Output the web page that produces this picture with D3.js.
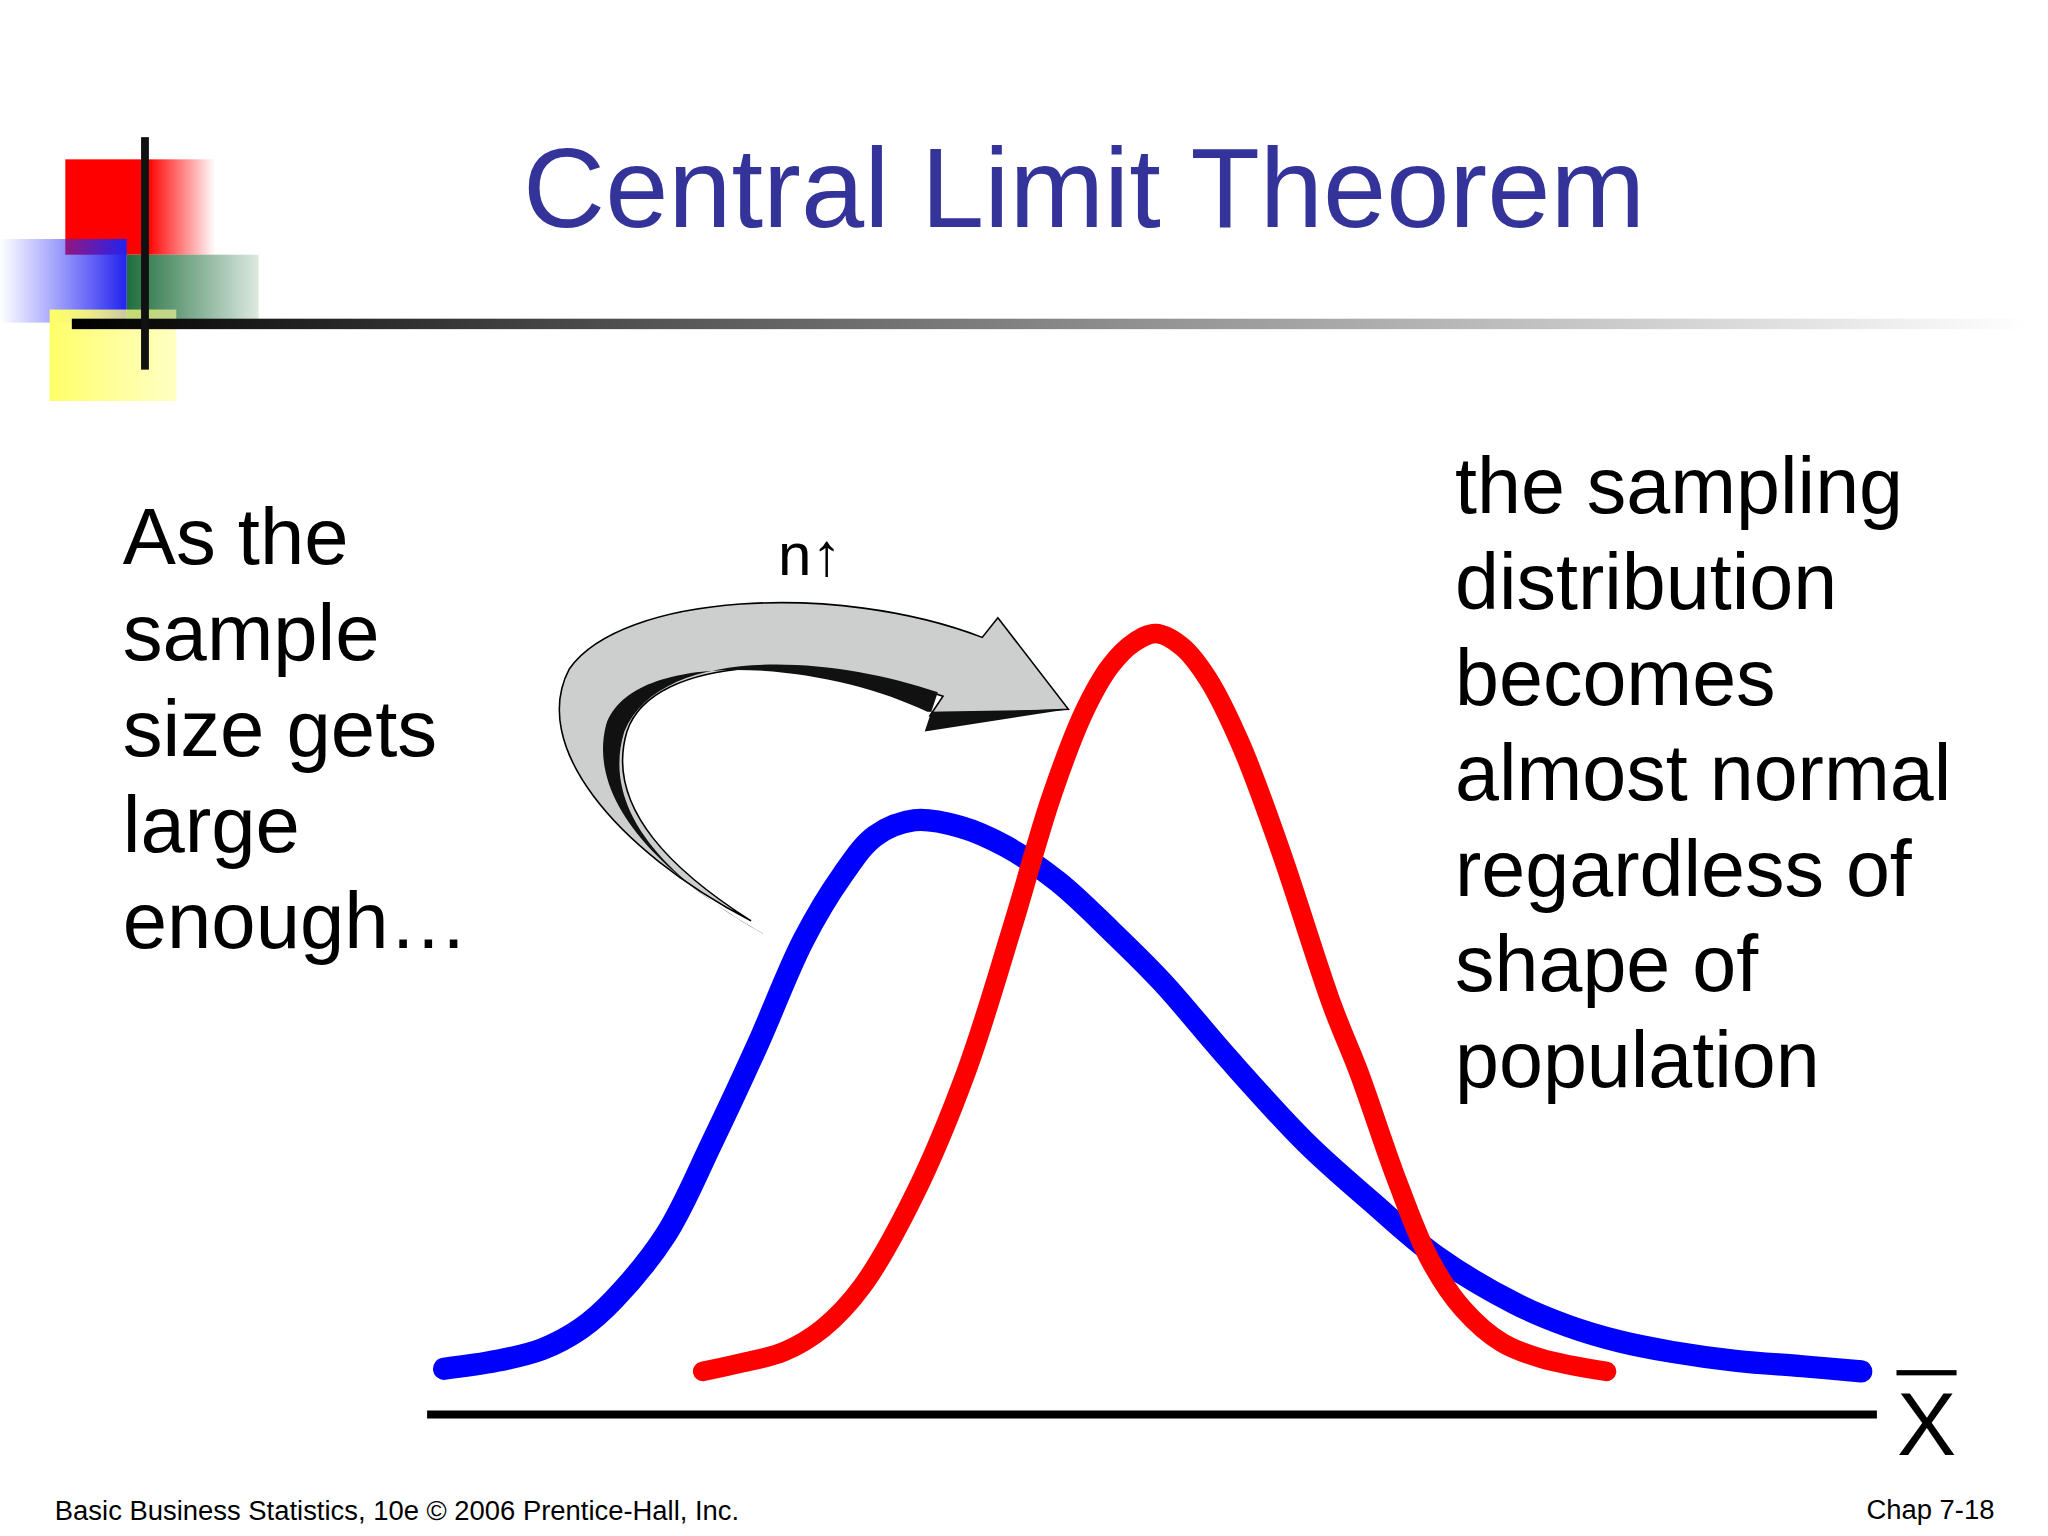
<!DOCTYPE html>
<html><head><meta charset="utf-8">
<script src="https://cdn.jsdelivr.net/npm/d3@7"></script>
<style>body{margin:0;background:#fff}</style></head>
<body><svg id="c"></svg>
<script>
// curve points: x along axis, height above axis
const blueX = [13,53,88,118,143,183,218,253,288,318,343,373,408,443,483,523,563,613,673,723,773,833,873,913,953,1003,1053,1098];
const blueH = [35,41,50,66,88,138,208,283,363,413,443,455,450,435,408,371,331,273,208,163,121,85,68,56,48,41,37,33];
const redX = [211,243,273,303,333,373,413,448,478,503,523,541,558,578,598,623,653,693,713,743,768,793,823,853,903];
const redH = [33,40,48,66,98,168,263,373,473,538,573,591,598,588,563,513,433,313,263,178,118,81,55,43,33];
const leftLines = ["As the","sample","size gets","large","enough…"];
const rightLines = ["the sampling","distribution","becomes","almost normal","regardless of","shape of","population"];

const svg = d3.select("#c").attr("width",2048).attr("height",1536).attr("viewBox","0 0 1568 1176");
const font = "Liberation Sans, Arial, sans-serif";
const defs = svg.append("defs");
function grad(id, stops, x2, y2){
  const g = defs.append("linearGradient").attr("id",id).attr("x1",0).attr("y1",0).attr("x2",x2).attr("y2",y2);
  stops.forEach(s => g.append("stop").attr("offset",s[0]).attr("stop-color",s[1]).attr("stop-opacity",s[2]));
}
grad("gRed",[[0,"#ff0000",1],[0.55,"#ff0000",1],[1,"#ff0000",0]],1,0);
grad("gBlue",[[0,"#3333ff",0],[1,"#2222ee",1]],1,0);
grad("gGreen",[[0,"#1e6e3c",1],[1,"#1e6e3c",0.15]],1,0);
grad("gYel",[[0,"#ffff66",1],[1,"#ffff99",0.6]],1,0);
grad("gLine",[[0,"#000",1],[0.3,"#555",1],[1,"#fff",1]],1,0);

// logo
svg.append("rect").attr("x",50).attr("y",122).attr("width",115).attr("height",73).attr("fill","url(#gRed)");
svg.append("rect").attr("x",97).attr("y",195).attr("width",101).attr("height",50).attr("fill","url(#gGreen)");
svg.append("rect").attr("x",0).attr("y",183).attr("width",97).attr("height",64).attr("fill","url(#gBlue)");
svg.append("rect").attr("x",38).attr("y",237).attr("width",97).attr("height",70).attr("fill","url(#gYel)");
svg.append("rect").attr("x",55).attr("y",244).attr("width",1500).attr("height",8).attr("fill","url(#gLine)");
svg.append("rect").attr("x",108).attr("y",105).attr("width",6).attr("height",178).attr("fill","#111");

svg.append("text").attr("x",830).attr("y",174).attr("text-anchor","middle")
  .attr("font-family",font).attr("font-size",87).attr("fill","#333399").text("Central Limit Theorem");

svg.append("g").selectAll("text").data(leftLines).join("text")
  .attr("x",94).attr("y",(d,i)=>432+i*73.5).attr("font-family",font).attr("font-size",61).text(d=>d);
svg.append("g").selectAll("text").data(rightLines).join("text")
  .attr("x",1114).attr("y",(d,i)=>393+i*73.2).attr("font-family",font).attr("font-size",60.5).text(d=>d);

// axes
const x = d3.scaleLinear().domain([0,1110]).range([327,1437]);
const y = d3.scaleLinear().domain([0,600]).range([1083,483]);
const line = d3.line().x(d=>x(d[0])).y(d=>y(d[1])).curve(d3.curveCatmullRom);
svg.append("path").datum(blueX.map((v,i)=>[v,blueH[i]])).attr("d",line)
  .attr("fill","none").attr("stroke","#0000ff").attr("stroke-width",17).attr("stroke-linecap","round").attr("stroke-linejoin","round");
svg.append("path").datum(redX.map((v,i)=>[v,redH[i]])).attr("d",line)
  .attr("fill","none").attr("stroke","#ff0000").attr("stroke-width",15).attr("stroke-linecap","round").attr("stroke-linejoin","round");
svg.append("line").attr("x1",x(0)).attr("x2",x(1110)).attr("y1",y(0)).attr("y2",y(0)).attr("stroke","#000").attr("stroke-width",6);
svg.append("text").attr("x",1475).attr("y",1114).attr("text-anchor","middle").attr("font-family",font).attr("font-size",68).text("X");
svg.append("rect").attr("x",1452).attr("y",1049).attr("width",46).attr("height",4).attr("fill","#000");

// arrow
svg.append("path").attr("d","M575,705 C470,650 405,570 436,512 C476,455 640,445 752,488 L764,473 L818,543 L712,548 L722,533 C630,500 500,500 480,560 C462,620 520,670 575,705 Z")
  .attr("fill","#cdcfce").attr("stroke","#000").attr("stroke-width",1.2);
svg.append("path").attr("d","M718,530 C630,500 505,495 478,560 C458,625 520,680 590,718 C500,668 450,610 464,555 C484,495 630,506 710,545 L818,543 L708,560 Z")
  .attr("fill","#111");
svg.append("text").attr("x",620).attr("y",440).attr("text-anchor","middle").attr("font-family",font).attr("font-size",46).text("n↑");

svg.append("text").attr("x",42).attr("y",1164).attr("font-family",font).attr("font-size",21).text("Basic Business Statistics, 10e © 2006 Prentice-Hall, Inc.");
svg.append("text").attr("x",1527).attr("y",1163).attr("text-anchor","end").attr("font-family",font).attr("font-size",21).text("Chap 7-18");
</script></body></html>
